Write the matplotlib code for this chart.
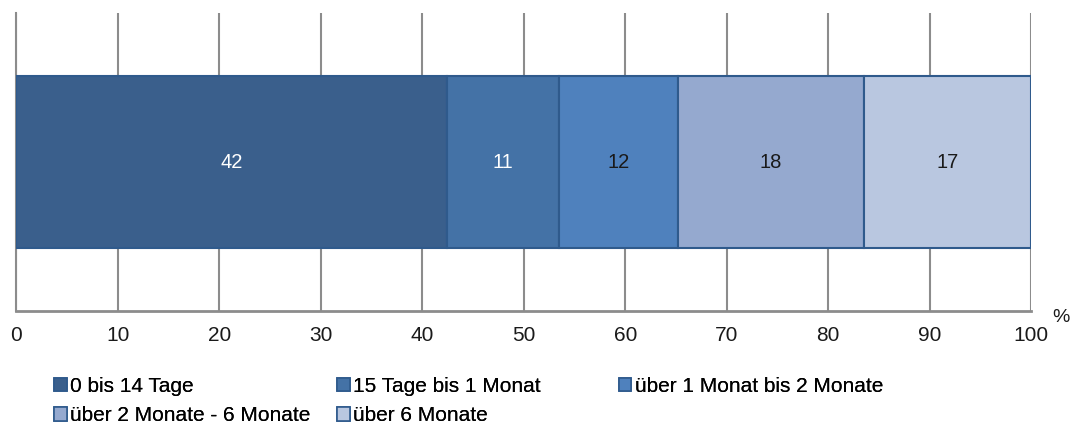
import matplotlib.pyplot as plt
from matplotlib.patches import Patch

# Anteile in Prozent (Balkenlänge) und gerundete Beschriftung
categories = ["0 bis 14 Tage", "15 Tage bis 1 Monat", "über 1 Monat bis 2 Monate",
              "über 2 Monate - 6 Monate", "über 6 Monate"]
shares = [42.4, 11.1, 11.7, 18.3, 16.5]
labels = ["42", "11", "12", "18", "17"]
colors = ["#3A5F8C", "#4472A6", "#4F81BD", "#95A9CF", "#B9C7E0"]
label_colors = ["white", "white", "#1a1a1a", "#1a1a1a", "#1a1a1a"]
xticks = list(range(0, 101, 10))

plt.rcParams["font.family"] = ["Liberation Sans", "DejaVu Sans"]

fig = plt.figure(figsize=(10.71, 4.25), dpi=100)
ax = fig.add_axes([0.015, 0.268, 0.948, 0.701])

left = 0
for val, lab, col, tc in zip(shares, labels, colors, label_colors):
    ax.barh(0, val, left=left, height=1.15, color=col, edgecolor="#2F5A8C",
            linewidth=1.5, zorder=3)
    ax.text(left + val / 2, 0, lab, ha="center", va="center", fontsize=14.5,
            color=tc, zorder=4)
    left += val

ax.set_xlim(0, 100)
ax.set_ylim(-1, 1)
ax.set_xticks(xticks)
ax.set_xticklabels([str(t) for t in xticks], fontsize=15, color="#1a1a1a")
ax.tick_params(axis="x", length=0, pad=11)
ax.set_yticks([])
ax.grid(axis="x", color="#8C8C8C", linewidth=1.5, zorder=0)
for s in ["top", "right"]:
    ax.spines[s].set_visible(False)
ax.spines["left"].set_color("#8C8C8C")
ax.spines["left"].set_linewidth(1.5)
ax.spines["bottom"].set_color("#8C8C8C")
ax.spines["bottom"].set_linewidth(2)
fig.text(1052 / 1071, 1 - 309 / 425, "%", fontsize=14,
         ha="left", va="top", color="#1a1a1a")

# Legende in drei Spalten
handles = [Patch(facecolor=c, edgecolor="#2F5A8C", linewidth=1.2) for c in colors]
columns = [([0, 3], 54 / 1071), ([1, 4], 337 / 1071), ([2], 619 / 1071)]
for idx, x in columns:
    leg = fig.legend([handles[i] for i in idx], [categories[i] for i in idx],
                     loc="upper left", bbox_to_anchor=(x, 1 - 377 / 425), frameon=False,
                     fontsize=15, handlelength=0.6, handleheight=0.6,
                     handletextpad=0.15, labelspacing=0.5, borderaxespad=0,
                     borderpad=0)
    fig.add_artist(leg)

fig.savefig("out.png", dpi=100)
